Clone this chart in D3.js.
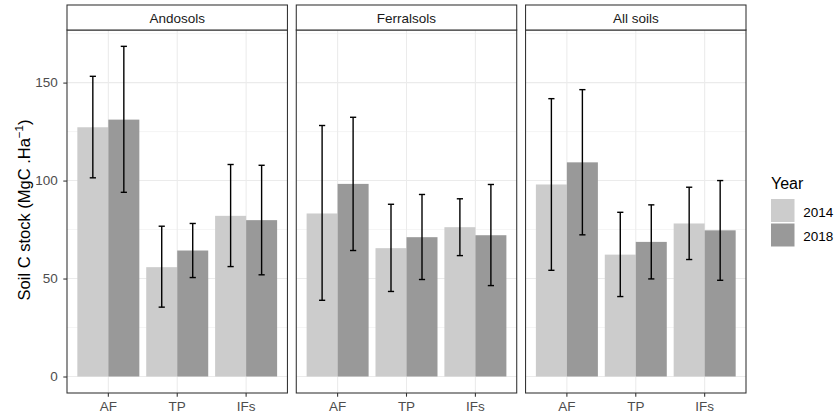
<!DOCTYPE html>
<html>
<head>
<meta charset="utf-8">
<script src="https://cdn.jsdelivr.net/npm/d3@7"></script>
<style>
  body { margin: 0; background: #fff; }
  text { font-family: "Liberation Sans", Arial, sans-serif; }
</style>
</head>
<body>
<script>
// Data
var soils = ["Andosols", "Ferralsols", "All soils"];
var systems = ["AF", "TP", "IFs"];
var years = ["2014", "2018"];

// mean, lower and upper error bounds, [soil][system]
var mean2014 = [[127.2, 55.8, 82.0], [83.2, 65.5, 76.2], [98.0, 62.2, 78.1]];
var lo2014   = [[101.4, 35.4, 56.1], [38.9, 43.4, 61.7], [54.2, 40.8, 59.7]];
var hi2014   = [[153.2, 76.7, 108.2], [128.1, 87.9, 90.7], [141.8, 83.8, 96.6]];
var mean2018 = [[131.1, 64.3, 79.8], [98.3, 71.1, 72.1], [109.3, 68.7, 74.6]];
var lo2018   = [[94.0, 50.5, 51.9], [64.3, 49.5, 46.4], [72.3, 49.8, 49.1]];
var hi2018   = [[168.5, 78.1, 107.8], [132.3, 92.9, 98.0], [146.4, 87.6, 100.0]];

var yTicks = [0, 50, 100, 150];
var yMinor = [25, 75, 125, 175];
var yearColors = ["#cccccc", "#999999"];

// build rows
var rows = [];
soils.forEach(function(s, i) {
  systems.forEach(function(c, j) {
    rows.push({soil: s, sys: c, year: "2014", v: mean2014[i][j], lo: lo2014[i][j], hi: hi2014[i][j]});
    rows.push({soil: s, sys: c, year: "2018", v: mean2018[i][j], lo: lo2018[i][j], hi: hi2018[i][j]});
  });
});

// Width and height
var w = 836;
var h = 418;
var panelTop = 30;
var panelBottom = 393;
var stripTop = 5;
var tickFont = "13.5px";

var svg = d3.select("body")
            .append("svg")
            .attr("width", w)
            .attr("height", h);

// panels
var facet = d3.scaleBand()
              .domain(soils)
              .range([67, 746])
              .paddingInner(0.0385);

var yScale = d3.scaleLinear()
              .domain([-8.42, 176.84])
              .range([panelBottom, panelTop]);

var xScale = d3.scaleBand()
              .domain(systems)
              .range([0, facet.bandwidth()])
              .paddingInner(0.1)
              .paddingOuter(0.15);

var xYear = d3.scaleBand()
              .domain(years)
              .range([0, xScale.bandwidth()]);

var color = d3.scaleOrdinal().domain(years).range(yearColors);

var capW = xScale.step() * 0.09;

soils.forEach(function(s) {
  var g = svg.append("g")
    .attr("transform", "translate(" + facet(s) + ",0)");
  var pw = facet.bandwidth();

  // grid
  g.selectAll("line.minor")
    .data(yMinor)
    .enter()
    .append("line")
    .attr("x1", 0).attr("x2", pw)
    .attr("y1", function(d) { return yScale(d); })
    .attr("y2", function(d) { return yScale(d); })
    .attr("stroke", "#ebebeb")
    .attr("stroke-width", 0.55);
  g.selectAll("line.major")
    .data(yTicks)
    .enter()
    .append("line")
    .attr("x1", 0).attr("x2", pw)
    .attr("y1", function(d) { return yScale(d); })
    .attr("y2", function(d) { return yScale(d); })
    .attr("stroke", "#ebebeb")
    .attr("stroke-width", 1.07);
  g.selectAll("line.vmajor")
    .data(systems)
    .enter()
    .append("line")
    .attr("x1", function(d) { return xScale(d) + xScale.bandwidth() / 2; })
    .attr("x2", function(d) { return xScale(d) + xScale.bandwidth() / 2; })
    .attr("y1", panelTop).attr("y2", panelBottom)
    .attr("stroke", "#ebebeb")
    .attr("stroke-width", 1.07);

  var d0 = rows.filter(function(r) { return r.soil === s; });

  // bars
  g.selectAll("rect.bar")
    .data(d0)
    .enter()
    .append("rect")
    .attr("x", function(d) { return xScale(d.sys) + xYear(d.year); })
    .attr("width", xYear.bandwidth())
    .attr("y", function(d) { return yScale(d.v); })
    .attr("height", function(d) { return yScale(0) - yScale(d.v); })
    .attr("fill", function(d) { return color(d.year); });

  // error bars
  var eb = g.selectAll("g.err")
    .data(d0)
    .enter()
    .append("g")
    .attr("stroke", "#000")
    .attr("stroke-width", 1.4)
    .attr("transform", function(d) {
      return "translate(" + (xScale(d.sys) + xYear(d.year) + xYear.bandwidth() / 2) + ",0)";
    });
  eb.append("line")
    .attr("x1", 0).attr("x2", 0)
    .attr("y1", function(d) { return yScale(d.lo); })
    .attr("y2", function(d) { return yScale(d.hi); });
  eb.append("line")
    .attr("x1", -capW / 2).attr("x2", capW / 2)
    .attr("y1", function(d) { return yScale(d.lo); })
    .attr("y2", function(d) { return yScale(d.lo); });
  eb.append("line")
    .attr("x1", -capW / 2).attr("x2", capW / 2)
    .attr("y1", function(d) { return yScale(d.hi); })
    .attr("y2", function(d) { return yScale(d.hi); });

  // panel border
  g.append("rect")
    .attr("x", 0).attr("y", panelTop)
    .attr("width", pw).attr("height", panelBottom - panelTop)
    .attr("fill", "none")
    .attr("stroke", "#333333")
    .attr("stroke-width", 1.07);

  // strip
  g.append("rect")
    .attr("x", 0).attr("y", stripTop)
    .attr("width", pw).attr("height", panelTop - stripTop)
    .attr("fill", "#ffffff")
    .attr("stroke", "#333333")
    .attr("stroke-width", 1.07);
  g.append("text")
    .attr("x", pw / 2)
    .attr("y", 22.8)
    .attr("text-anchor", "middle")
    .attr("font-size", tickFont)
    .attr("fill", "#1a1a1a")
    .text(s);

  // X axis
  var xAxis = d3.axisBottom(xScale).tickSize(3.7).tickPadding(5);
  var ax = g.append("g")
    .attr("transform", "translate(0," + panelBottom + ")")
    .call(xAxis);
  ax.select(".domain").remove();
  ax.selectAll(".tick line").attr("stroke", "#333333").attr("stroke-width", 1.07);
  ax.selectAll(".tick text")
    .attr("font-size", tickFont)
    .attr("fill", "#4d4d4d")
    .attr("font-family", "Liberation Sans, Arial, sans-serif");
});

// Y axis (first panel only)
var yAxis = d3.axisLeft(yScale).tickValues(yTicks).tickSize(3.7).tickPadding(5.5);
var ay = svg.append("g")
  .attr("transform", "translate(" + facet(soils[0]) + ",0)")
  .call(yAxis);
ay.select(".domain").remove();
ay.selectAll(".tick line").attr("stroke", "#333333").attr("stroke-width", 1.07);
ay.selectAll(".tick text")
  .attr("font-size", tickFont)
  .attr("fill", "#4d4d4d")
  .attr("font-family", "Liberation Sans, Arial, sans-serif");

// Y title
var yt = svg.append("text")
  .attr("transform", "translate(30,210) rotate(-90)")
  .attr("text-anchor", "middle")
  .attr("font-size", "16.5px")
  .attr("fill", "#000");
yt.append("tspan").text("Soil C stock (MgC .Ha");
yt.append("tspan").attr("font-size", "11.5px").attr("dy", -7).text("\u22121");
yt.append("tspan").attr("dy", 7).text(")");

// Legend
var lg = svg.append("g").attr("transform", "translate(771,0)");
lg.append("text")
  .attr("x", 0).attr("y", 189)
  .attr("font-size", "16px")
  .attr("fill", "#000")
  .text("Year");
var items = lg.selectAll("g.item")
  .data(years)
  .enter()
  .append("g")
  .attr("transform", function(d, i) { return "translate(0," + (199 + i * 24.5) + ")"; });
items.append("rect")
  .attr("width", 23.5).attr("height", 23)
  .attr("fill", function(d) { return color(d); });
items.append("text")
  .attr("x", 32.3).attr("y", 17.6)
  .attr("font-size", "13.5px")
  .attr("fill", "#000")
  .text(function(d) { return d; });
</script>
</body>
</html>
